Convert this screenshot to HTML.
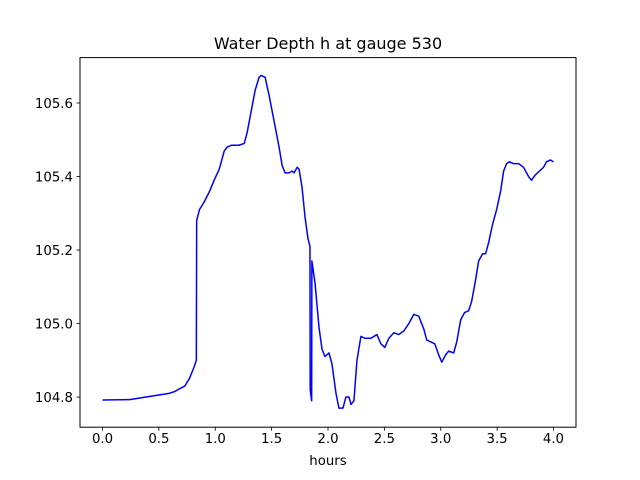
<!DOCTYPE html>
<html><head><meta charset="utf-8"><style>
body{margin:0;background:#fff;}
svg{display:block;font-family:"DejaVu Sans","Liberation Sans",sans-serif;}
</style></head><body>
<svg id="chart" width="640" height="480">
<rect width="640" height="480" fill="#fff"/>
</svg>
<script>
const hours=[0,0.24,0.59,0.64,0.68,0.73,0.77,0.81,0.832,0.835,0.86,0.90,0.95,0.99,1.035,1.08,1.106,1.142,1.21,1.257,1.283,1.32,1.354,1.389,1.407,1.442,1.478,1.522,1.566,1.593,1.619,1.655,1.681,1.699,1.726,1.743,1.77,1.796,1.823,1.84,1.842,1.855,1.857,1.885,1.92,1.947,1.973,2.009,2.035,2.071,2.097,2.133,2.159,2.186,2.204,2.23,2.257,2.292,2.327,2.381,2.434,2.469,2.504,2.54,2.584,2.628,2.673,2.717,2.761,2.805,2.85,2.876,2.912,2.947,2.982,3.009,3.044,3.071,3.115,3.142,3.177,3.212,3.248,3.274,3.31,3.336,3.372,3.398,3.425,3.46,3.496,3.531,3.558,3.584,3.611,3.646,3.69,3.735,3.779,3.805,3.841,3.876,3.912,3.938,3.973,4.0];
const depth=[104.792,104.793,104.81,104.815,104.822,104.83,104.85,104.88,104.90,105.28,105.31,105.33,105.36,105.39,105.42,105.47,105.48,105.485,105.485,105.49,105.52,105.58,105.635,105.67,105.675,105.67,105.62,105.55,105.48,105.43,105.41,105.41,105.415,105.41,105.425,105.42,105.37,105.29,105.23,105.21,104.82,104.79,105.17,105.11,104.99,104.93,104.91,104.92,104.89,104.81,104.77,104.77,104.80,104.80,104.78,104.79,104.90,104.965,104.96,104.96,104.97,104.945,104.935,104.96,104.975,104.97,104.98,105.0,105.025,105.02,104.985,104.955,104.95,104.945,104.915,104.895,104.915,104.925,104.92,104.95,105.01,105.03,105.035,105.06,105.12,105.17,105.19,105.19,105.22,105.27,105.31,105.36,105.415,105.435,105.44,105.435,105.435,105.425,105.40,105.39,105.405,105.415,105.425,105.44,105.445,105.44];
const xTicks=[0.0,0.5,1.0,1.5,2.0,2.5,3.0,3.5,4.0];
const yTicks=[104.8,105.0,105.2,105.4,105.6];

const NS="http://www.w3.org/2000/svg";
const svg=document.getElementById('chart');
const L=80,R=576,T=57.6,B=427.2;
const xmin=-0.2,xmax=4.2,ymin=104.718,ymax=105.7235;
const sx=v=>L+(v-xmin)/(xmax-xmin)*(R-L);
const sy=v=>B-(v-ymin)/(ymax-ymin)*(B-T);
function mk(tag,attrs){const e=document.createElementNS(NS,tag);for(const k in attrs)e.setAttribute(k,attrs[k]);svg.appendChild(e);return e;}

let d='';
hours.forEach((h,i)=>{d+=(i?'L':'M')+sx(h).toFixed(2)+','+sy(depth[i]).toFixed(2);});
const line=mk('path',{d:d,fill:'none',stroke:'#0000ff','stroke-width':1.5,'stroke-linejoin':'round'});



const frame=mk('rect',{x:L,y:T,width:R-L,height:B-T,fill:'none',stroke:'#000','stroke-width':1});



xTicks.forEach(v=>{
  const x=sx(v);
  const t=mk('line',{x1:x,x2:x,y1:B,y2:B+3.5,stroke:'#000','stroke-width':0.8});
  
  
  const lb=mk('text',{x:x,y:B+16,'text-anchor':'middle','font-size':'13.3px'});
  lb.textContent=v.toFixed(1);
  
  
});
yTicks.forEach(v=>{
  const y=sy(v);
  const t=mk('line',{x1:L-3.5,x2:L,y1:y,y2:y,stroke:'#000','stroke-width':0.8});
  
  
  const lb=mk('text',{x:L-7,y:y+5,'text-anchor':'end','font-size':'13.3px'});
  lb.textContent=v.toFixed(1);
  
  
});
const xt=mk('text',{x:(L+R)/2,y:465,'text-anchor':'middle','font-size':'13.3px'});
xt.textContent='hours';


const ti=mk('text',{x:(L+R)/2,y:49,'text-anchor':'middle','font-size':'16px'});
ti.textContent='Water Depth h at gauge 530';


</script>
</body></html>
